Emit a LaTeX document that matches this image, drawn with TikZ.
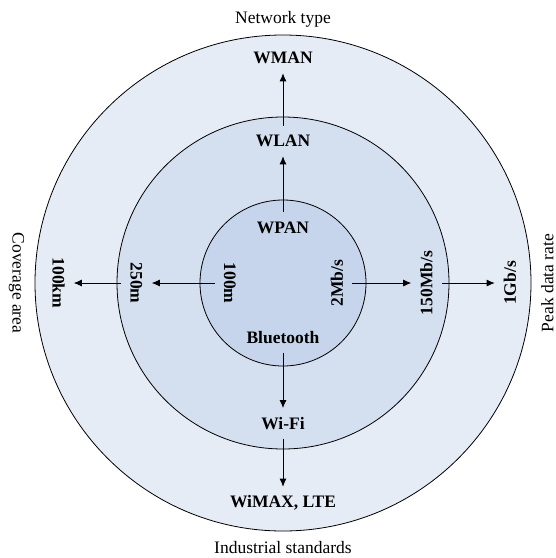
\documentclass[tikz,border=0pt]{standalone}
\usepackage{fontspec}
\setmainfont{Liberation Serif}
\usetikzlibrary{arrows.meta}
\definecolor{ringA}{HTML}{E6ECF6}
\definecolor{ringB}{HTML}{D4DFEF}
\definecolor{ringC}{HTML}{C6D5EB}
\tikzset{
  lab/.style={font=\fontsize{17.5}{20}\selectfont\bfseries, inner sep=0pt, outer sep=9.5pt, text height=11.6pt, text depth=0pt},
  ttl/.style={font=\fontsize{17.5}{20}\selectfont, inner sep=0pt, text height=11.6pt, text depth=0pt},
  ring/.style={draw=black, line width=0.8pt},
  arr/.style={line width=0.8pt, -{Latex[length=8pt,width=7pt]}}
}
\begin{document}
\begin{tikzpicture}[x=1pt,y=-1pt]
\useasboundingbox (0,0) rectangle (556,558);
\coordinate (c) at (283,283);
\draw[ring, fill=ringA] (c) circle[radius=248];
\draw[ring, fill=ringB] (c) circle[radius=166];
\draw[ring, fill=ringC] (c) circle[radius=83];

\node[ttl] (nt) at (283,17.5) {Network type};
\node[ttl] (is) at (283,547.5) {Industrial standards};
\node[ttl, rotate=-90] (ca) at (18.5,283) {Coverage area};
\node[ttl, rotate=90] (pd) at (547.5,283) {Peak data rate};

\node[lab] (wman) at (283,58) {WMAN};
\node[lab] (wlan) at (283,141) {WLAN};
\node[lab] (wpan) at (283,227.5) {WPAN};
\node[lab] (bt) at (283,337.5) {Bluetooth};
\node[lab] (wifi) at (283,423.3) {Wi-Fi};
\node[lab] (wimax) at (283,502) {WiMAX, LTE};

\node[lab, rotate=-90] (km100) at (58.5,283) {100km};
\node[lab, rotate=-90] (m250) at (136.5,283) {250m};
\node[lab, rotate=-90] (m100) at (230,283) {100m};
\node[lab, rotate=90] (mb2) at (337,283) {2Mb/s};
\node[lab, rotate=90] (mb150) at (426.5,283) {150Mb/s};
\node[lab, rotate=90] (gb1) at (510,283) {1Gb/s};

\draw[arr] (wpan.north) -- (wlan.south);
\draw[arr] (wlan.north) -- (wman.south);
\draw[arr] (bt.south) -- (wifi.north);
\draw[arr] (wifi.south) -- (wimax.north);
\draw[arr] (m100.south) -- (m250.north);
\draw[arr] (m250.south) -- (km100.north);
\draw[arr] (mb2.south) -- (mb150.north);
\draw[arr] (mb150.south) -- (gb1.north);
\end{tikzpicture}
\end{document}
